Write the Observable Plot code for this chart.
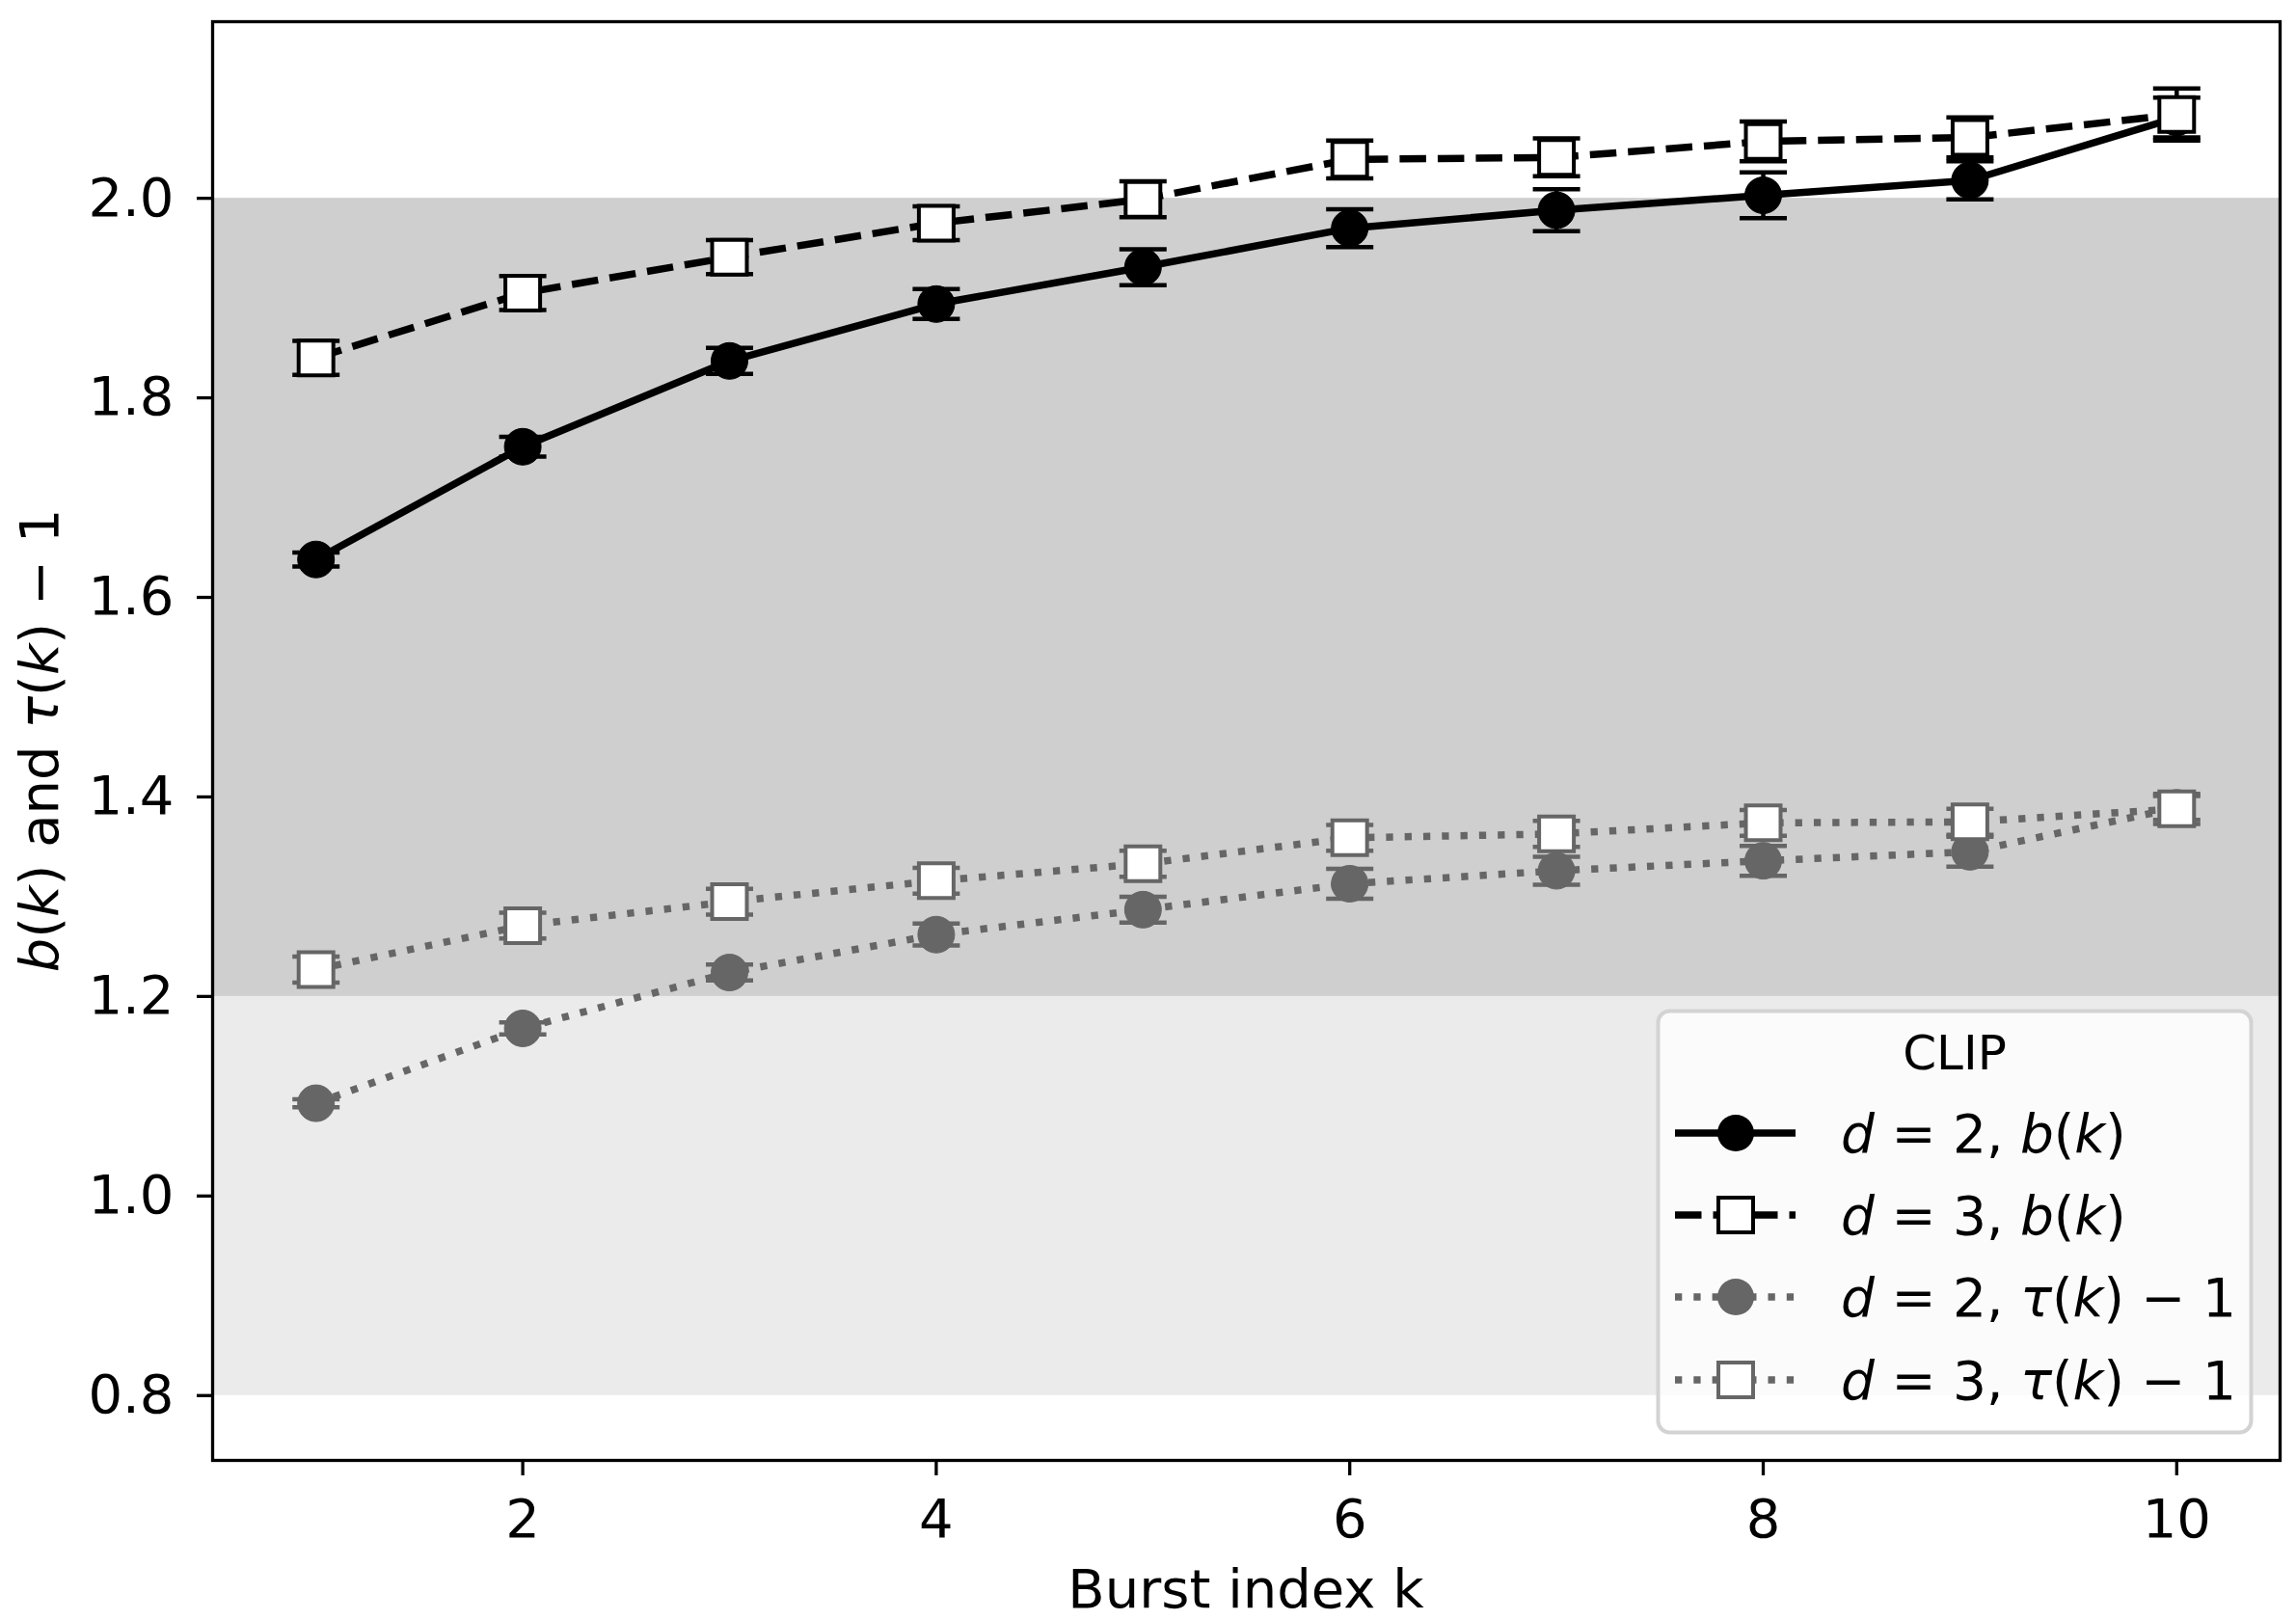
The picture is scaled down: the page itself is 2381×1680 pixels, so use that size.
<!DOCTYPE html>
<html><head><meta charset="utf-8">
<script src="https://cdn.jsdelivr.net/npm/d3@7"></script>
<script src="https://cdn.jsdelivr.net/npm/@observablehq/plot@0.6"></script>
<style>
html,body{margin:0;padding:0;background:#fff;}
#chart{width:2381px;height:1680px;}
svg text{white-space:pre;}
</style></head><body><div id="chart"></div>
<script>
// ---- data ----
const burstK = [1, 2, 3, 4, 5, 6, 7, 8, 9, 10];
const bD2 = [1.638, 1.751, 1.837, 1.894, 1.931, 1.970, 1.988, 2.003, 2.018, 2.081];
const bD2Err = [0.007, 0.010, 0.013, 0.015, 0.018, 0.019, 0.021, 0.023, 0.019, 0.020];
const bD3 = [1.840, 1.905, 1.941, 1.975, 1.999, 2.039, 2.041, 2.057, 2.061, 2.084];
const bD3Err = [0.017, 0.017, 0.017, 0.017, 0.018, 0.019, 0.019, 0.020, 0.020, 0.026];
const tauD2 = [1.093, 1.168, 1.224, 1.262, 1.287, 1.313, 1.326, 1.336, 1.345, 1.389];
const tauD2Err = [0.004, 0.006, 0.008, 0.011, 0.013, 0.015, 0.014, 0.015, 0.015, 0.012];
const tauD3 = [1.227, 1.271, 1.295, 1.316, 1.333, 1.359, 1.363, 1.374, 1.375, 1.388];
const tauD3Err = [0.013, 0.013, 0.013, 0.013, 0.013, 0.013, 0.013, 0.013, 0.013, 0.015];
const xTicks = [2, 4, 6, 8, 10];
const yTicks = [0.8, 1.0, 1.2, 1.4, 1.6, 1.8, 2.0];
const bandLower = [0.8, 1.2];
const bandUpper = [1.2, 2.0];
const legendTitle = "CLIP";
const seriesKeys = ["d2b", "d3b", "d2tau", "d3tau"];
const legendLabels = [
  [["d",1],[" = 2, ",0],["b",1],["(",0],["k",1],[")",0]],
  [["d",1],[" = 3, ",0],["b",1],["(",0],["k",1],[")",0]],
  [["d",1],[" = 2, ",0],["τ",1],["(",0],["k",1],[") − 1",0]],
  [["d",1],[" = 3, ",0],["τ",1],["(",0],["k",1],[") − 1",0]]
];
const xLabel = "Burst index k";
const yLabelParts = [["b",1],["(",0],["k",1],[") and ",0],["τ",1],["(",0],["k",1],[") − 1",0]];

// ---- styles ----
const GRAY = "#666666";
const seriesStyle = {
  d2b:   {color: "black", dash: null,        symbol: "circle", fill: "black"},
  d3b:   {color: "black", dash: "27.5,12",   symbol: "square", fill: "white"},
  d2tau: {color: GRAY,    dash: "7.3,12",    symbol: "circle", fill: GRAY},
  d3tau: {color: GRAY,    dash: "7.3,12",    symbol: "square", fill: "white"}
};
const valuesByKey = {d2b: [bD2, bD2Err], d3b: [bD3, bD3Err], d2tau: [tauD2, tauD2Err], d3tau: [tauD3, tauD3Err]};
const LW = 7.5, CIRC_R = 19, SQ_R = 20.3, SQ_SW = 4, CAP_R = 24.5, ERR_SW = 4.5;

const capSymbol = {
  draw(ctx, size) { const w = Math.sqrt(size / Math.PI); ctx.moveTo(-w, 0); ctx.lineTo(w, 0); }
};

const tables = {};
for (const key of seriesKeys) {
  const [v, e] = valuesByKey[key];
  tables[key] = burstK.map((k, i) => ({k, y: v[i], e: e[i]}));
}
const bands = [{lo: bandLower[0], hi: bandLower[1]}, {lo: bandUpper[0], hi: bandUpper[1]}];

const marks = [
  Plot.rect([bands[0]], {y1: "lo", y2: "hi", fill: "#ebebeb"}),
  Plot.rect([bands[1]], {y1: "lo", y2: "hi", fill: "#cfcfcf"})
];
for (const key of seriesKeys) {
  const s = seriesStyle[key], data = tables[key];
  const caps = data.flatMap(d => [{k: d.k, y: d.y - d.e}, {k: d.k, y: d.y + d.e}]);
  marks.push(
    Plot.ruleX(data, {x: "k", y1: d => d.y - d.e, y2: d => d.y + d.e, stroke: s.color, strokeWidth: ERR_SW}),
    Plot.dot(caps, {x: "k", y: "y", symbol: capSymbol, r: CAP_R, stroke: s.color, strokeWidth: ERR_SW, fill: "none"}),
    Plot.line(data, {x: "k", y: "y", stroke: s.color, strokeWidth: LW, strokeDasharray: s.dash, strokeLinecap: "butt", strokeLinejoin: "round"}),
    s.symbol === "circle"
      ? Plot.dot(data, {x: "k", y: "y", r: CIRC_R, fill: s.fill, stroke: s.color, strokeWidth: 1})
      : Plot.dot(data, {x: "k", y: "y", r: SQ_R, symbol: "square", fill: s.fill, stroke: s.color, strokeWidth: SQ_SW})
  );
}
marks.push(
  Plot.frame({stroke: "black", strokeWidth: 3.3}),
  Plot.axisX({ticks: xTicks, tickSize: 16, tickPadding: 24, fontSize: 56, strokeWidth: 3.3, label: null}),
  Plot.axisY({ticks: yTicks, tickFormat: d => d.toFixed(1), tickSize: 16, tickPadding: 24, fontSize: 56, strokeWidth: 3.3, label: null})
);

const svg = Plot.plot({
  width: 2381, height: 1680,
  marginLeft: 220, marginRight: 17, marginTop: 22, marginBottom: 166,
  x: {domain: [0.5, 10.5]},
  y: {domain: [0.735, 2.177]},
  style: {fontFamily: "DejaVu Sans", fontSize: "56px", background: "white", color: "black"},
  marks
});
document.getElementById("chart").appendChild(svg);

// ---- axis labels & legend ----
const root = d3.select(svg);
function rich(sel, parts) {
  for (const [t, it] of parts) sel.append("tspan").attr("font-style", it ? "italic" : null).text(t);
  return sel;
}
root.append("text").attr("x", 1292).attr("y", 1667).attr("text-anchor", "middle")
  .attr("font-family", "DejaVu Sans").attr("font-size", 56).attr("fill", "black").text(xLabel);
rich(root.append("text").attr("transform", "translate(60,768) rotate(-90)").attr("text-anchor", "middle")
  .attr("font-family", "DejaVu Sans").attr("font-size", 56).attr("fill", "black"), yLabelParts);

const lg = root.append("g").attr("transform", "translate(1718,1047)");
lg.append("rect").attr("x", 1.5).attr("y", 1.5).attr("width", 615).attr("height", 437).attr("rx", 12)
  .attr("fill", "white").attr("fill-opacity", 0.8).attr("stroke", "#d3d3d3").attr("stroke-width", 4);
lg.append("text").attr("x", 309).attr("y", 62).attr("text-anchor", "middle")
  .attr("font-family", "DejaVu Sans").attr("font-size", 50).attr("fill", "black").text(legendTitle);
const rowY = [128, 213, 298, 384];
seriesKeys.forEach((key, i) => {
  const s = seriesStyle[key], y = rowY[i];
  lg.append("line").attr("x1", 19).attr("x2", 144).attr("y1", y).attr("y2", y)
    .attr("stroke", s.color).attr("stroke-width", LW).attr("stroke-dasharray", s.dash);
  if (s.symbol === "circle") {
    lg.append("circle").attr("cx", 82).attr("cy", y).attr("r", CIRC_R).attr("fill", s.fill);
  } else {
    const side = SQ_R * Math.sqrt(Math.PI);
    lg.append("rect").attr("x", 82 - side / 2).attr("y", y - side / 2).attr("width", side).attr("height", side)
      .attr("fill", s.fill).attr("stroke", s.color).attr("stroke-width", SQ_SW);
  }
  rich(lg.append("text").attr("x", 191).attr("y", y + 20).attr("text-anchor", "start").attr("font-family", "DejaVu Sans")
    .attr("font-size", 55).attr("fill", "black"), legendLabels[i]);
});
</script></body></html>
